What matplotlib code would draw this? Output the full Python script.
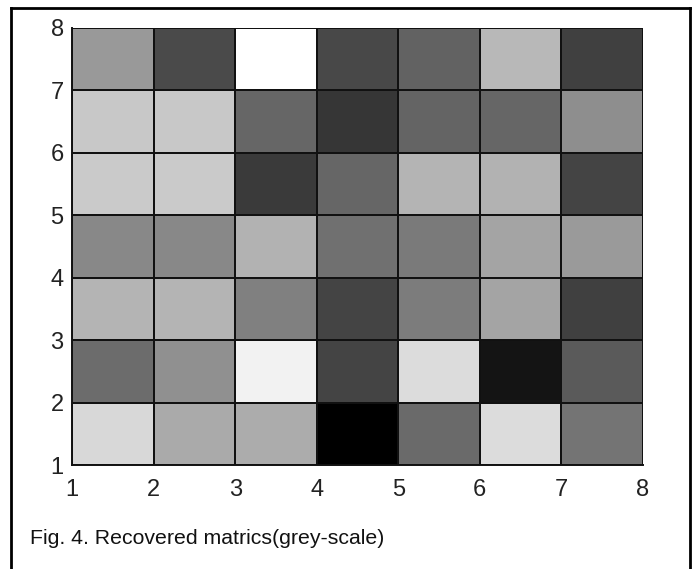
import numpy as np
import matplotlib
matplotlib.use("Agg")
import matplotlib.pyplot as plt
from matplotlib.lines import Line2D

plt.rcParams['font.family'] = ['Liberation Sans', 'DejaVu Sans']

x_edges = [1, 2, 3, 4, 5, 6, 7, 8]
y_edges = [1, 2, 3, 4, 5, 6, 7, 8]
tick_labels = ['1', '2', '3', '4', '5', '6', '7', '8']

# grey levels (0-255), rows from bottom (y=1..2) to top (y=7..8)
row_1 = [0xd8, 0xaa, 0xac, 0x00, 0x6a, 0xdc, 0x74]
row_2 = [0x6c, 0x90, 0xf2, 0x44, 0xdc, 0x14, 0x5a]
row_3 = [0xb4, 0xb4, 0x80, 0x44, 0x7c, 0xa4, 0x40]
row_4 = [0x88, 0x88, 0xb2, 0x70, 0x7a, 0xa4, 0x9a]
row_5 = [0xca, 0xca, 0x3a, 0x66, 0xb4, 0xb2, 0x44]
row_6 = [0xc8, 0xc8, 0x66, 0x36, 0x64, 0x66, 0x8e]
row_7 = [0x99, 0x4a, 0xff, 0x48, 0x62, 0xb8, 0x40]

caption = "Fig. 4. Recovered matrics(grey-scale)"

values = np.array([row_1, row_2, row_3, row_4, row_5, row_6, row_7], dtype=float)

W, H = 697, 569
fig = plt.figure(figsize=(W/100, H/100), dpi=100)

ax = fig.add_axes([72/W, 1-465/H, (643-72)/W, (465-28)/H])
ax.pcolormesh(x_edges, y_edges, values, cmap='gray', vmin=0, vmax=255,
              edgecolors='#111111', linewidth=1.4)
ax.set_xlim(1, 8)
ax.set_ylim(1, 8)
ax.set_xticks(x_edges)
ax.set_xticklabels(tick_labels)
ax.set_yticks(y_edges)
ax.set_yticklabels(tick_labels)
ax.tick_params(axis='both', length=0, labelsize=17, colors='#222222')
ax.tick_params(axis='x', pad=10)
ax.tick_params(axis='y', pad=6)
for side in ['top', 'right']:
    ax.spines[side].set_visible(False)
for side in ['left', 'bottom']:
    ax.spines[side].set_color('#111111')
    ax.spines[side].set_linewidth(1.4)

fig.text(30/W, 1-538/H, caption, fontsize=15.3, va='center', ha='left', color='#111111')

# outer frame (open at bottom)
xl, xr, yt = 11/W, 690/W, 1-8/H
fig.add_artist(Line2D([xl, xl], [0, yt], transform=fig.transFigure, color='black', lw=2))
fig.add_artist(Line2D([xr, xr], [0, yt], transform=fig.transFigure, color='black', lw=2))
fig.add_artist(Line2D([xl, xr], [yt, yt], transform=fig.transFigure, color='black', lw=2))

fig.savefig('out.png', dpi=100)
